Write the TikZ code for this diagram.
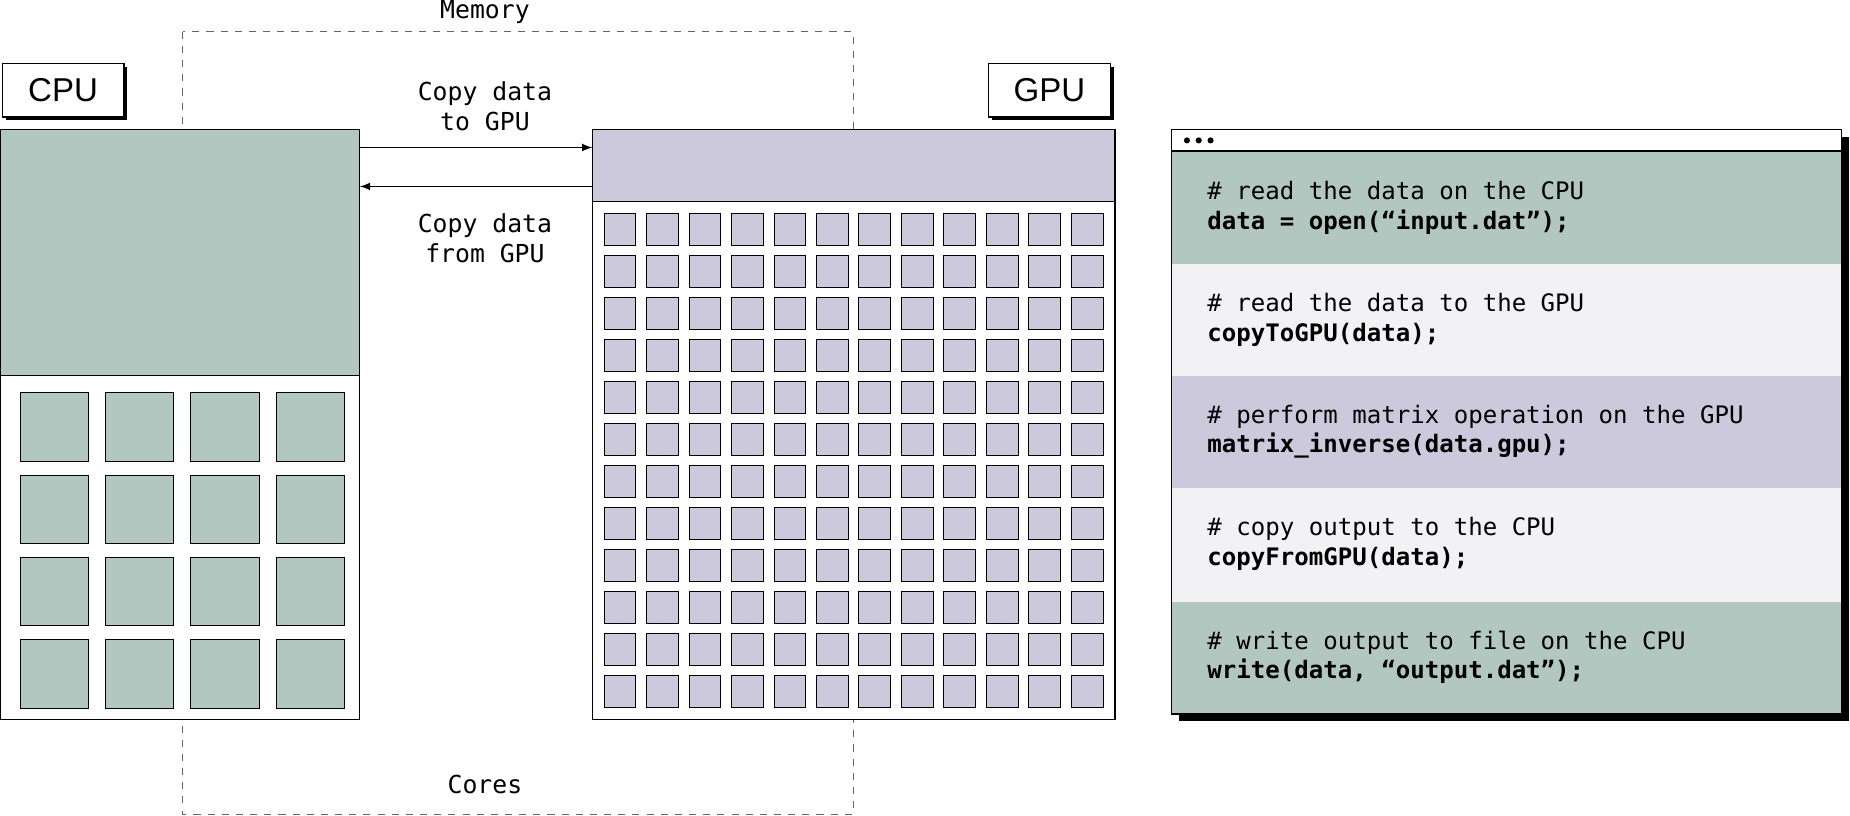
\documentclass[tikz,border=0pt]{standalone}
\usepackage{fontspec}
\setmainfont{Liberation Sans}
\setmonofont{DejaVu Sans Mono}
\begin{document}
\begin{tikzpicture}[x=0.5pt,y=-0.5pt,
  teal/.style={fill=tealc},
  lbl/.style={font=\ttfamily\fontsize{10.5}{12.5}\selectfont,align=center,inner sep=0},
  code/.style={font=\ttfamily\fontsize{10.2}{12.5}\selectfont,anchor=west,align=left,inner sep=0},
  core/.style={draw=black,line width=0.4pt},
  titlebox/.style={draw=black,fill=white,line width=0.6pt,minimum width=51.5pt,minimum height=22.5pt,font=\fontsize{14}{16}\selectfont,inner sep=0}]
\definecolor{tealc}{HTML}{B3C7C1}
\definecolor{lavc}{HTML}{CDC9DC}
\definecolor{lightc}{HTML}{F2F2F4}
\useasboundingbox (0,0) rectangle (1568,691);
\fill[white] (0,0) rectangle (1568,691);
% memory/cores dashed frame
\draw[dashed,line width=0.4pt,gray!80!black] (155,27) rectangle (723,690);
\node[lbl] (mem) at (411,10) {Memory};
\node[lbl] (cores) at (411,665) {Cores};
% CPU
\fill[black] (5,57) rectangle (108,102);
\node[titlebox] (cpul) at (53.5,76.5) {CPU};
\draw[fill=white,line width=0.5pt] (0,110) rectangle (305,610);
\draw[fill=tealc,line width=0.5pt] (0,110) rectangle (305,318);
\coordinate (cpuR1) at (305,125);
\coordinate (cpuR2) at (305,158);
\foreach \i in {0,...,3}{\foreach \j in {0,...,3}{
  \draw[core,fill=tealc] ({17+72.4*\i},{333+69.7*\j}) rectangle ++(58,58);}}
% GPU
\fill[black] (841,57) rectangle (944,102);
\node[titlebox] (gpul) at (889.5,76.5) {GPU};
\draw[fill=white,line width=0.5pt] (502,110) rectangle (945,610);
\draw[fill=lavc,line width=0.5pt] (502,110) rectangle (945,171);
\coordinate (gpuL1) at (502,125);
\coordinate (gpuL2) at (502,158);
\foreach \i in {0,...,11}{\foreach \j in {0,...,11}{
  \draw[core,fill=lavc] ({512+36*\i},{181+35.6*\j}) rectangle ++(27,27);}}
% arrows
\draw[-latex,line width=0.5pt] (cpuR1) -- (gpuL1);
\draw[-latex,line width=0.5pt] (gpuL2) -- (cpuR2);
\node[lbl] (to) at (411,90) {Copy data\\to GPU};
\node[lbl] (from) at (411,202) {Copy data\\from GPU};
% code window
\fill[black] (999,116) rectangle (1567,611);
\draw[fill=white,line width=0.6pt] (993,110) rectangle (1561,605);
\fill[tealc] (993,128) rectangle (1561,224);
\fill[lightc] (993,224) rectangle (1561,319);
\fill[lavc] (993,319) rectangle (1561,414);
\fill[lightc] (993,414) rectangle (1561,510);
\fill[tealc] (993,510) rectangle (1561,605);
\draw[line width=0.6pt] (993,128) -- (1561,128);
\draw[line width=0.6pt] (993,110) rectangle (1561,605);
\foreach \x in {1006,1016,1026}{\fill (\x,119) circle (2.6);}
\node[code] (c1) at (1023,176) {\# read the data on the CPU\\\textbf{data = open(“input.dat”);}};
\node[code] (c2) at (1023,271) {\# read the data to the GPU\\\textbf{copyToGPU(data);}};
\node[code] (c3) at (1023,366) {\# perform matrix operation on the GPU\\\textbf{matrix\_inverse(data.gpu);}};
\node[code] (c4) at (1023,461) {\# copy output to the CPU\\\textbf{copyFromGPU(data);}};
\node[code] (c5) at (1023,557) {\# write output to file on the CPU\\\textbf{write(data, “output.dat”);}};
\end{tikzpicture}
\end{document}
